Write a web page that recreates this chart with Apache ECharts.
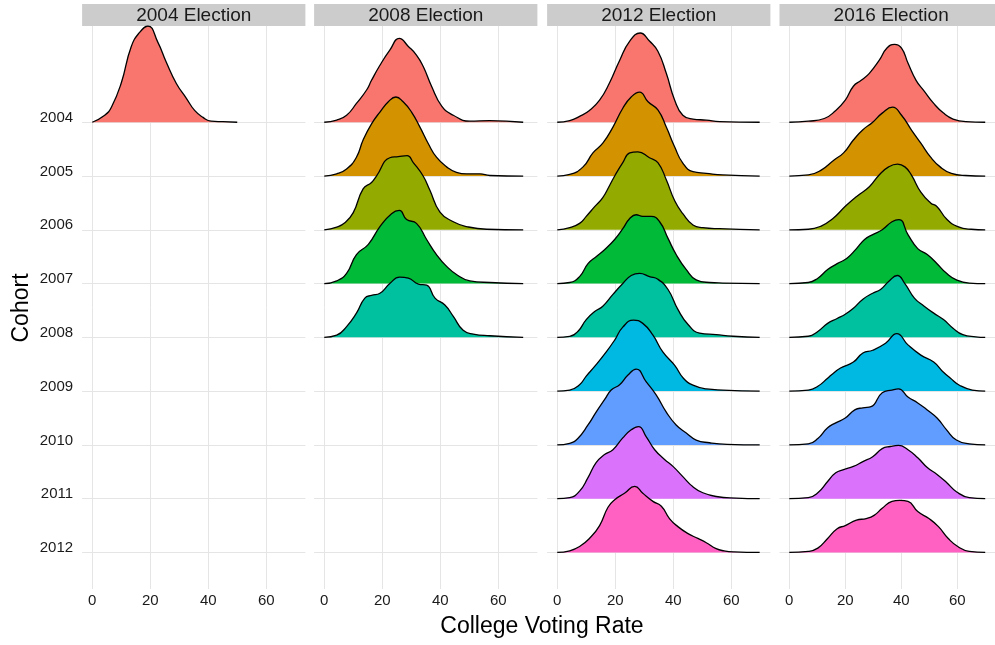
<!DOCTYPE html>
<html>
<head>
<meta charset="utf-8">
<script src="https://cdn.jsdelivr.net/npm/echarts@6/dist/echarts.min.js"></script>
<style>
  html, body { margin: 0; padding: 0; background: #fff; }
  #ridges { width: 995px; height: 645px; }
</style>
</head>
<body>
<div id="ridges"></div>
<script>
// categories
var cohorts = ['2004', '2005', '2006', '2007', '2008', '2009', '2010', '2011', '2012'];
var elections = ['2004 Election', '2008 Election', '2012 Election', '2016 Election'];
var rateTicks = [0, 20, 40, 60];
var cohortColors = ['#F8766D', '#D39200', '#93AA00', '#00BA38', '#00C19F', '#00B9E3', '#619CFF', '#DB72FB', '#FF61C3'];

// ridge heights: [college voting rate, height in % of one cohort row]
var e2004_c2004 = [[0,0],[4.3,13],[6.6,28],[10,73],[13.4,140],[16.3,167],[19.2,179],[22.6,149],[25.5,112],[29,72],[32.4,45],[35.3,22],[38.2,9],[41,2],[45,1],[50,0]];

var e2008_c2004 = [[0,0],[4.3,4],[7.7,13],[11.1,35],[14.6,60],[16.3,78],[19.2,106],[22.6,134],[25.9,156],[29,141],[31.8,125],[34.1,104],[37,67],[40.5,30],[44.5,13],[50.2,2],[57,3],[68.6,0]];
var e2008_c2005 = [[0,0],[4.3,4],[7.7,13],[11.1,35],[13.4,67],[16.3,97],[19.2,119],[22.1,138],[24.7,147],[27.2,138],[30.1,119],[33,91],[35.9,60],[38.7,35],[42.2,17],[45.6,7],[49.1,4],[53.7,4],[57.1,1],[68.6,0]];
var e2008_c2006 = [[0,0],[4.3,5],[7.1,13],[10,32],[13.4,76],[16.3,88],[18,100],[22.6,134],[25.5,136],[28.6,138],[30.7,125],[34.1,100],[36.4,74],[39.9,33],[44.5,15],[49.1,6],[56,1],[68.6,0]];
var e2008_c2007 = [[0,0],[4.3,5],[7.7,19],[11.1,54],[15.2,73],[19.2,106],[23.2,130],[25.9,136],[28.4,119],[31.8,112],[35.3,82],[38.7,54],[42.2,32],[45.6,17],[50.2,5],[57.1,2],[68.6,0]];
var e2008_c2008 = [[0,0],[4.3,4],[7.7,20],[11.1,45],[14,73],[16.3,78],[19.2,82],[22.6,100],[26,112],[29,110],[32.5,99],[35.3,97],[38.2,73],[41.6,60],[44.5,39],[47.9,13],[51.4,6],[57.1,3],[68.6,0]];

var e2012_c2004 = [[0,0],[4.3,3],[7.7,11],[11.1,22],[14.6,41],[18,73],[21.5,115],[25,151],[28.6,166],[31.8,151],[34.7,132],[37.6,91],[40.5,41],[43.3,13],[46.8,6],[51.4,4],[56,1],[69.8,0]];
var e2012_c2005 = [[0,0],[4.3,3],[8.9,17],[12.3,43],[15.7,61],[19.2,91],[22.6,126],[25.5,147],[28.4,156],[31.3,138],[34.7,123],[37.6,91],[40.5,54],[43.3,24],[46.8,8],[51.4,5],[57.1,2],[69.8,0]];
var e2012_c2006 = [[0,0],[4.3,4],[7.7,12],[10,25],[12.9,43],[15.7,60],[18,82],[20,102],[22.6,125],[25,143],[27.8,145],[31.8,134],[34.7,125],[37.6,93],[40.5,54],[43.3,30],[46.8,9],[50.2,4],[56,2],[69.8,0]];
var e2012_c2007 = [[0,0],[4.3,2],[7.7,13],[10.6,37],[13.4,50],[16.3,63],[19.8,82],[22.6,102],[25,121],[27.2,128],[29.5,125],[32.4,125],[35.3,115],[38.2,84],[41,54],[44.5,26],[47.9,7],[52.5,2],[57.1,1],[69.8,0]];
var e2012_c2008 = [[0,0],[4.3,2],[7.1,11],[10,33],[12.9,48],[15.7,58],[19.2,80],[22.6,100],[25.5,115],[28.4,119],[31.8,113],[34.7,108],[38.2,89],[41.6,52],[45.1,24],[49.1,8],[54.8,5],[60.6,2],[69.8,0]];
var e2012_c2009 = [[0,0],[4.3,2],[7.7,12],[10,28],[12.9,46],[16.9,73],[19.8,95],[22.6,119],[26.3,132],[29.5,126],[33,104],[36.4,73],[40.5,48],[43.5,24],[46.8,11],[51.4,4],[57.1,2],[69.8,0]];
var e2012_c2010 = [[0,0],[4.3,3],[7.1,12],[10.6,37],[13.4,61],[16.3,84],[18.6,102],[21.5,112],[24.4,130],[27.2,141],[30.7,117],[34.1,93],[37.6,61],[41,37],[44.5,22],[47.9,9],[52.5,4],[58.6,1],[69.8,0]];
var e2012_c2011 = [[0,0],[4.3,2],[7.7,14],[10.6,39],[13.4,67],[16.3,82],[19.2,91],[22.6,113],[25.5,128],[28,134],[30.7,115],[33.6,91],[37,73],[39.9,60],[43.3,41],[46.8,22],[50.2,11],[54.8,4],[61.7,1],[69.8,0]];
var e2012_c2012 = [[0,0],[4.3,3],[7.7,11],[11.1,26],[14.6,50],[17.5,84],[19.8,98],[23.2,110],[26.7,123],[29.5,110],[33,95],[35.9,86],[38.7,63],[41.6,48],[45.1,35],[48.5,26],[51.4,18],[54.8,7],[57.5,3],[61,1],[69.8,0]];

var e2016_c2004 = [[0,0],[6.8,2],[12.5,7],[16.6,22],[20,41],[22.9,67],[25.7,78],[28.6,91],[32.1,115],[34.9,138],[37.6,145],[40.1,138],[42.4,110],[45.3,78],[48.2,58],[51.6,35],[55.1,17],[58.5,6],[63.1,1],[70,0]];
var e2016_c2005 = [[0,0],[6.8,2],[11.4,11],[16,30],[19.4,43],[22.9,67],[26.3,86],[29.8,100],[33.2,117],[36.9,128],[40.1,113],[43.6,86],[47,61],[50.5,35],[53.9,17],[57.9,5],[63,1],[70,0]];
var e2016_c2006 = [[0,0],[6.8,1],[11.4,7],[15.4,20],[20.3,45],[24.3,63],[28.6,80],[32.1,102],[35.5,117],[38.7,122],[41.3,117],[43.6,102],[47,70],[50.5,50],[52.8,43],[56.2,20],[60.2,6],[65,1],[70,0]];
var e2016_c2007 = [[0,0],[6.8,2],[10.2,10],[13.7,26],[17.1,37],[20.6,47],[24,65],[26.9,82],[29.8,91],[33.2,100],[36.7,115],[39.2,119],[42.4,91],[45.9,65],[49.3,54],[52.8,37],[56.2,19],[59.7,7],[64.3,1],[70,0]];
var e2016_c2008 = [[0,0],[6.8,2],[10.2,11],[13.7,26],[17.1,35],[20,43],[22.9,54],[26.3,71],[29.8,82],[32.6,89],[35.5,104],[38.6,115],[41.3,100],[44.7,73],[48.2,58],[51.6,45],[55.1,33],[58.5,17],[62,5],[66.6,1],[70,0]];
var e2016_c2009 = [[0,0],[6.8,2],[10.2,9],[13.7,24],[15,30],[18.3,43],[22.9,54],[26.3,71],[29.8,76],[34.4,89],[38.4,107],[42.4,86],[47,67],[51.6,54],[55.1,35],[57.6,24],[60.8,11],[65.4,2],[70,0]];
var e2016_c2010 = [[0,0],[6.8,2],[10.2,12],[13.7,32],[16.6,41],[20,50],[23.4,65],[26.3,69],[29.2,71],[33.2,97],[36.7,102],[39,104],[42.4,89],[45.9,78],[49.3,65],[52.8,50],[56.2,28],[59.7,9],[64.3,2],[70,0]];
var e2016_c2011 = [[0,0],[6.8,2],[10.2,11],[13.7,32],[16.6,48],[19.4,54],[22.9,60],[26.3,69],[29.8,78],[33.2,93],[36.1,97],[39,99],[42.4,91],[45.9,76],[49.3,58],[52.8,45],[56.2,30],[59.7,13],[64.3,2],[70,0]];
var e2016_c2012 = [[0,0],[6.8,2],[10.2,8],[13.7,26],[17.1,44],[20,50],[24,60],[27.5,63],[30.3,69],[33.2,82],[36.7,95],[39.5,97],[42.4,95],[45.9,76],[49.9,63],[53.3,48],[56.8,26],[60.2,11],[64.3,2],[70,0]];

var panels = [
  [e2004_c2004],
  [e2008_c2004, e2008_c2005, e2008_c2006, e2008_c2007, e2008_c2008],
  [e2012_c2004, e2012_c2005, e2012_c2006, e2012_c2007, e2012_c2008, e2012_c2009, e2012_c2010, e2012_c2011, e2012_c2012],
  [e2016_c2004, e2016_c2005, e2016_c2006, e2016_c2007, e2016_c2008, e2016_c2009, e2016_c2010, e2016_c2011, e2016_c2012]
];

var chart = echarts.init(document.getElementById('ridges'));

var panelLeft = [82.1, 314.1, 547.1, 779.5];
var panelW = 223.3;
var gridTop = 26, gridH = 563;
var font = '"Liberation Sans", Arial, sans-serif';
var gridCol = '#e5e5e5';
var cohortTicks = cohorts.map(function (c, i) { return i; });

var grids = [], xAxes = [], yAxes = [], series = [], graphics = [];

panels.forEach(function (ridges, k) {
  grids.push({ left: panelLeft[k], top: gridTop, width: panelW, height: gridH });
  xAxes.push({
    type: 'value', gridIndex: k, min: -3.5, max: 73.5,
    axisLine: { show: false },
    axisTick: { show: false, customValues: rateTicks },
    axisLabel: { customValues: rateTicks, color: '#1a1a1a', fontSize: 15, fontFamily: font, margin: 4 },
    splitLine: { show: true, lineStyle: { color: gridCol, width: 1 } }
  });
  yAxes.push({
    type: 'value', gridIndex: k, min: -0.68, max: 9.79,
    axisLine: { show: false },
    axisTick: { show: k === 0, customValues: cohortTicks, length: 4, lineStyle: { color: gridCol } },
    axisLabel: {
      show: k === 0, customValues: cohortTicks, color: '#1a1a1a', fontSize: 15, fontFamily: font,
      margin: 9, verticalAlign: 'bottom', lineHeight: 9,
      formatter: function (v) { return cohorts[8 - Math.round(v)]; }
    },
    splitLine: { show: true, lineStyle: { color: gridCol, width: 1 } }
  });

  ridges.forEach(function (pts, i) {
    var base = 8 - i;
    series.push({
      type: 'line',
      xAxisIndex: k, yAxisIndex: k,
      z: 2 + i,
      symbol: 'none',
      smooth: 0.5,
      silent: true,
      lineStyle: { color: '#000', width: 1.3 },
      areaStyle: { color: cohortColors[i], opacity: 1, origin: base },
      data: pts.map(function (p) { return [p[0], base + p[1] / 100]; })
    });
  });

  // facet strip
  graphics.push({ type: 'rect', shape: { x: panelLeft[k], y: 4, width: panelW, height: 22 }, style: { fill: '#cccccc' }, silent: true });
  graphics.push({
    type: 'text', x: panelLeft[k] + panelW / 2, y: 16,
    style: { text: elections[k], fill: '#1a1a1a', fontSize: 19, fontFamily: font, align: 'center', verticalAlign: 'middle' }
  });
});

// axis titles
graphics.push({
  type: 'text', x: 542, y: 627,
  style: { text: 'College Voting Rate', fill: '#000', fontSize: 23, fontFamily: font, align: 'center', verticalAlign: 'middle' }
});
graphics.push({
  type: 'text', x: 22, y: 308, rotation: Math.PI / 2,
  style: { text: 'Cohort', fill: '#000', fontSize: 23, fontFamily: font, align: 'center', verticalAlign: 'middle' }
});

var option = {
  backgroundColor: '#fff',
  animation: false,
  grid: grids,
  xAxis: xAxes,
  yAxis: yAxes,
  series: series,
  graphic: graphics
};
chart.setOption(option);
</script>
</body>
</html>
